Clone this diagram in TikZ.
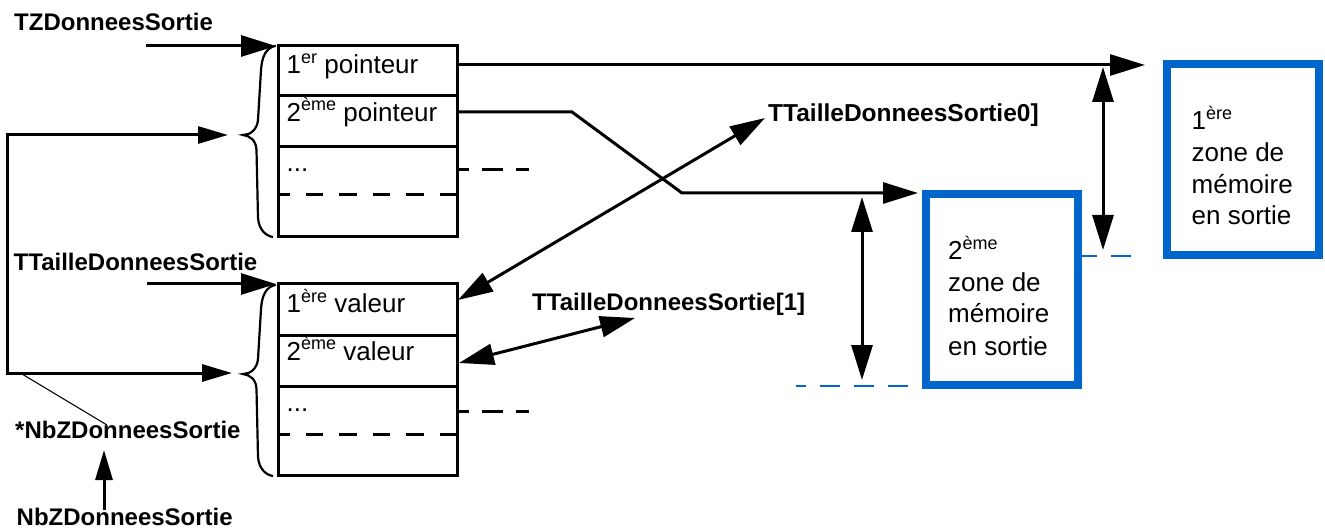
\documentclass[tikz,border=0pt]{standalone}
\usepackage{fontspec}
\setmainfont{Liberation Sans}
\usetikzlibrary{arrows.meta}
\definecolor{zoneblue}{RGB}{0,102,204}
\newcommand\supx[1]{\raisebox{10.5pt}{\fontsize{18}{18}\selectfont #1}}
\tikzset{
  tipB/.tip={Triangle[length=35pt,width=21pt]},
  tipS/.tip={Triangle[length=30pt,width=17pt]},
}
\begin{document}
\begin{tikzpicture}[x=1pt,y=-1pt,
  lbl/.style={anchor=base west,inner sep=0pt,font=\fontsize{24}{28}\selectfont\bfseries},
  txt/.style={anchor=base west,inner sep=0pt,font=\fontsize{26}{30}\selectfont},
  frame/.style={draw,line width=3pt,outer sep=0pt,inner sep=0pt,anchor=north west,minimum width=179pt,minimum height=191pt},
  zone/.style={draw=zoneblue,line width=8.5pt,outer sep=0pt,inner sep=0pt,anchor=north west,minimum width=152pt,minimum height=191pt},
  sep/.style={line width=3pt},
  sepdash/.style={line width=3pt,dash pattern=on 17.5pt off 16pt,dash phase=6pt},
  outdash/.style={line width=3pt,dash pattern=on 21pt off 13pt,dash phase=9pt},
  bluedash/.style={draw=zoneblue,line width=2pt,dash pattern=on 20pt off 14pt},
  conn/.style={line width=3pt},
  brace/.style={line width=2.2pt},
]
\useasboundingbox (0,0) rectangle (1325,529);

% ---- pointer table
\node[frame] (ptab) at (278,46) {};
\draw[sep] (278,96) -- (457,96);
\draw[sep] (278,147) -- (457,147);
\draw[sepdash] (278,195) -- (457,195);
\node[txt] (p1) at (286.5,74) {1\supx{er} pointeur};
\node[txt] (p2) at (286.5,121.5) {2\supx{ème} pointeur};
\node[txt] (p3) at (286.5,171.5) {...};

% ---- value table
\node[frame] (vtab) at (278,284) {};
\draw[sep] (278,335) -- (457,335);
\draw[sep] (278,386) -- (457,386);
\draw[sepdash] (278,434) -- (457,434);
\node[txt] (v1) at (286.5,312.5) {1\supx{ère} valeur};
\node[txt] (v2) at (286.5,360) {2\supx{ème} valeur};
\node[txt] (v3) at (286.5,411.5) {...};

% ---- braces
\draw[brace] (275.7,45.7) .. controls (266,48) and (262,56) .. (261,70) -- (258,120)
  .. controls (257,130) and (250,135) .. (243,135)
  .. controls (250,136) and (256,140) .. (256.5,150) -- (258,218)
  .. controls (259,230) and (266,236) .. (273,237);
\begin{scope}[shift={(0,239)}]
\draw[brace] (275.7,45.7) .. controls (266,48) and (262,56) .. (261,70) -- (258,120)
  .. controls (257,130) and (250,135) .. (243,135)
  .. controls (250,136) and (256,140) .. (256.5,150) -- (258,218)
  .. controls (259,230) and (266,236) .. (273,237);
\end{scope}

% ---- zones
\node[zone] (z1) at (1167,64) {};
\node[txt] (z1a) at (1191.5,130) {1\supx{ère}};
\node[txt] (z1b) at (1191.5,161.5) {zone de};
\node[txt] (z1c) at (1191.5,193.5) {mémoire};
\node[txt] (z1d) at (1191.5,225) {en sortie};

\node[zone] (z2) at (926,194) {};
\node[txt] (z2a) at (948,260) {2\supx{ème}};
\node[txt] (z2b) at (948,291.5) {zone de};
\node[txt] (z2c) at (948,323) {mémoire};
\node[txt] (z2d) at (948,355) {en sortie};

% ---- labels
\node[lbl] (ltz) at (14,31) {TZDonneesSortie};
\node[lbl] (ltt) at (13.5,270.5) {TTailleDonneesSortie};
\node[lbl] (lnbp) at (15,438) {*NbZDonneesSortie};
\node[lbl] (lnb) at (16.5,525) {NbZDonneesSortie};
\node[lbl,font=\fontsize{24.5}{28}\selectfont\bfseries] (lt0) at (768,121.5) {TTailleDonneesSortie0]};
\node[lbl] (lt1) at (532,310) {TTailleDonneesSortie[1]};

% ---- coordinates
\coordinate (tzs) at (146,46);
\coordinate (tze) at (276,46);
\coordinate (tts) at (147,284);
\coordinate (tte) at (276,284);
\coordinate (lpa) at (228,135);
\coordinate (lpb) at (7,135);
\coordinate (lpc) at (7,373);
\coordinate (lpd) at (232,373);
\coordinate (thin1) at (22,374);
\coordinate (thin2) at (107,425);
\coordinate (nbs) at (104,510);
\coordinate (nbe) at (104,450);
\coordinate (o1) at (457,65);
\coordinate (o1e) at (1145,65);
\coordinate (o2) at (457,112);
\coordinate (o2a) at (572,112);
\coordinate (o2b) at (682,193);
\coordinate (o2e) at (918,193);
\coordinate (d1a) at (458,300);
\coordinate (d1b) at (765,118);
\coordinate (d2a) at (459,363);
\coordinate (d2b) at (635,318);
\coordinate (h1a) at (1103,67);
\coordinate (h1b) at (1103,250);
\coordinate (h2a) at (862,197);
\coordinate (h2b) at (862,380);
\coordinate (pd1) at (457,170);
\coordinate (pd2) at (529,170);
\coordinate (vd1) at (457,411);
\coordinate (vd2) at (529,411);
\coordinate (bd1a) at (908,386);
\coordinate (bd1b) at (796,386);
\coordinate (bd2a) at (1131,256);
\coordinate (bd2b) at (1081,256);

% ---- connectors
\draw[conn,-tipB] (tzs) -- (tze);
\draw[conn,-tipB] (tts) -- (tte);
\draw[conn,tipS-tipS] (lpa) -- (lpb) -- (lpc) -- (lpd);
\draw[line width=1.1pt] (thin1) -- (thin2);
\draw[conn,-tipS] (nbs) -- (nbe);
\draw[conn,-tipB] (o1) -- (o1e);
\draw[conn,-tipB] (o2) -- (o2a) -- (o2b) -- (o2e);
\draw[conn,tipB-tipB] (d1a) -- (d1b);
\draw[conn,tipB-tipB] (d2a) -- (d2b);
\draw[conn,tipB-tipB] (h1a) -- (h1b);
\draw[conn,tipB-tipB] (h2a) -- (h2b);
\draw[outdash] (pd1) -- (pd2);
\draw[outdash] (vd1) -- (vd2);
\draw[bluedash] (bd1a) -- (bd1b);
\draw[bluedash] (bd2a) -- (bd2b);
\end{tikzpicture}
\end{document}
